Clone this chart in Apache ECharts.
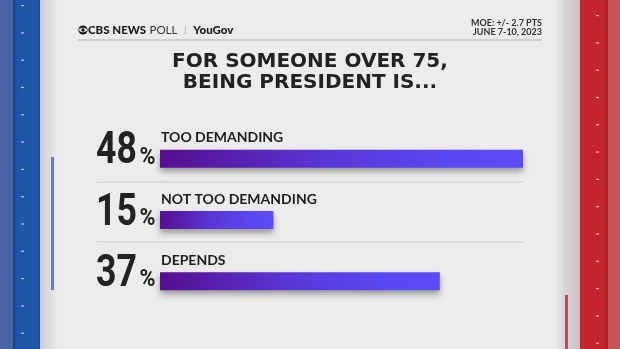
<!DOCTYPE html>
<html><head><meta charset="utf-8">
<script src="https://cdn.jsdelivr.net/npm/echarts@6/dist/echarts.min.js"></script>
<style>html,body{margin:0;padding:0;background:#ececec}#c{width:620px;height:349px}</style>
</head><body><div id="c"></div>
<script>
const categories = ['TOO DEMANDING', 'NOT TOO DEMANDING', 'DEPENDS'];
const values = [48, 15, 37];
const titleText = 'FOR SOMEONE OVER 75,\nBEING PRESIDENT IS...';
const moeText = 'MOE: +/- 2.7 PTS';
const dateText = 'JUNE 7-10, 2023';

const chart = echarts.init(document.getElementById('c'), null, {renderer: 'canvas'});

const deco = [];
// left blue stripe
deco.push({type:'rect', shape:{x:0,y:0,width:13,height:349}, style:{fill:'#4a65a6'}, silent:true});
deco.push({type:'rect', shape:{x:13,y:0,width:27,height:349}, style:{fill:{type:'linear',x:0,y:0,x2:1,y2:0,colorStops:[{offset:0,color:'#123f86'},{offset:0.12,color:'#1d56a8'},{offset:0.9,color:'#1f58aa'},{offset:1,color:'#174a95'}]}}, silent:true});
deco.push({type:'rect', shape:{x:40,y:0,width:18,height:349}, style:{fill:{type:'linear',x:0,y:0,x2:1,y2:0,colorStops:[{offset:0,color:'#c9cad3'},{offset:0.5,color:'#dcdce0'},{offset:1,color:'#ececec'}]}}, silent:true});
deco.push({type:'rect', shape:{x:51,y:157,width:3,height:133}, style:{fill:'#6b7eb0'}, silent:true});
// right red stripe
deco.push({type:'rect', shape:{x:556,y:0,width:24,height:349}, style:{fill:{type:'linear',x:0,y:0,x2:1,y2:0,colorStops:[{offset:0,color:'#ececec'},{offset:0.35,color:'#d6d6d8'},{offset:0.7,color:'#d2cbcd'},{offset:1,color:'#cfc0c3'}]}}, silent:true});
deco.push({type:'rect', shape:{x:580,y:0,width:28,height:349}, style:{fill:{type:'linear',x:0,y:0,x2:1,y2:0,colorStops:[{offset:0,color:'#b81f29'},{offset:0.1,color:'#c4252e'},{offset:0.88,color:'#c2242d'},{offset:1,color:'#a51c25'}]}}, silent:true});
deco.push({type:'rect', shape:{x:608,y:0,width:12,height:349}, style:{fill:'#c6525a'}, silent:true});
deco.push({type:'rect', shape:{x:565,y:295,width:3,height:54}, style:{fill:'#b0505c'}, silent:true});
for (let y = 5; y < 349; y += 27.3) {
  deco.push({type:'rect', shape:{x:21,y:y,width:3,height:1.2}, style:{fill:'rgba(255,255,255,0.7)'}, silent:true});
  deco.push({type:'rect', shape:{x:596,y:y+10,width:3,height:1.2}, style:{fill:'rgba(255,255,255,0.7)'}, silent:true});
}
// header
deco.push({type:'line', shape:{x1:78,y1:40,x2:542,y2:40}, style:{stroke:'#c4c4c4',lineWidth:1.5}, silent:true});
deco.push({type:'circle', shape:{cx:83,cy:30,r:4.6}, style:{fill:'#1a1a1a'}, silent:true});
deco.push({type:'ellipse', shape:{cx:83,cy:30,rx:4,ry:2.2}, style:{fill:'#ececec'}, silent:true});
deco.push({type:'circle', shape:{cx:83,cy:30,r:1.7}, style:{fill:'#1a1a1a'}, silent:true});
deco.push({type:'text', x:88, y:30, style:{
  text:'{b|CBS NEWS} {r|POLL}  {s||}  {b|YouGov}', verticalAlign:'middle', align:'left',
  rich:{b:{fontFamily:'Lato',fontWeight:900,fontSize:11.5,fill:'#1a1a1a'},
        r:{fontFamily:'Lato',fontWeight:400,fontSize:11.5,fill:'#333'},
        s:{fontFamily:'Lato',fontSize:10,fill:'#aaa'}}
}, silent:true});
deco.push({type:'text', x:542, y:23, style:{text:moeText, align:'right', verticalAlign:'middle', fontFamily:'Lato', fontWeight:700, fontSize:9, fill:'#333'}, silent:true});
deco.push({type:'text', x:542, y:32, style:{text:dateText, align:'right', verticalAlign:'middle', fontFamily:'Lato', fontWeight:700, fontSize:9, fill:'#333'}, silent:true});
// separators
deco.push({type:'line', shape:{x1:97,y1:182,x2:523,y2:182}, style:{stroke:'#dcdcdc',lineWidth:2}, silent:true});
deco.push({type:'line', shape:{x1:97,y1:242,x2:523,y2:242}, style:{stroke:'#dcdcdc',lineWidth:2}, silent:true});

const option = {
  backgroundColor: '#ececec',
  animation: false,
  title: {
    text: titleText, left: 'center', top: 46,
    textStyle: {fontFamily:'DejaVu Sans', fontWeight:'bold', fontSize:20, lineHeight:21, color:'#222', align:'center'}
  },
  grid: {left: 160, width: 363, top: 128, height: 184},
  xAxis: {type:'value', min:0, max:48, show:false},
  yAxis: {
    type:'category', data: categories, inverse:true,
    axisLine:{show:false}, axisTick:{show:false}, axisLabel:{show:false}
  },
  series: [{
    type:'bar', data: values, barWidth: 18,
    itemStyle: {
      color: {type:'linear', x:0, y:0, x2:1, y2:0, colorStops:[{offset:0,color:'#560e8f'},{offset:0.45,color:'#5936d6'},{offset:0.8,color:'#5b48f3'},{offset:1,color:'#5b4bf8'}]},
      shadowBlur: 6, shadowOffsetY: 4, shadowColor: 'rgba(0,0,0,0.35)'
    },
    label: {
      show:true, position:[1,-19], formatter:'{b}',
      fontFamily:'Lato', fontWeight:700, fontSize:14, color:'#1e1e1e'
    }
  }],
  graphic: deco
};
chart.setOption(option);

// big condensed percentage labels, positioned from the category axis
const pctLabels = [];
categories.forEach((c, i) => {
  const p = chart.convertToPixel({gridIndex: 0}, [0, c]);
  pctLabels.push({
    type:'group', x: p[0] - 23, y: p[1] - 6.5, scaleX: 0.81, silent:true,
    children: [
      {type:'text', x:0, y:0, style:{text: String(values[i]), align:'right', verticalAlign:'middle',
        fontFamily:'Roboto', fontWeight:'bold', fontSize:44, fill:'#222',
        shadowBlur:3, shadowOffsetY:1, shadowColor:'rgba(0,0,0,0.25)'}}
    ]
  });
  pctLabels.push({
    type:'group', x: p[0] - 20.5, y: p[1] - 1, scaleX: 0.9, silent:true,
    children: [
      {type:'text', x:0, y:0, style:{text:'%', align:'left', verticalAlign:'middle',
        fontFamily:'Roboto', fontWeight:'bold', fontSize:24, fill:'#222'}}
    ]
  });
});
chart.setOption({graphic: deco.concat(pctLabels)}, {replaceMerge: ['graphic']});
</script></body></html>
